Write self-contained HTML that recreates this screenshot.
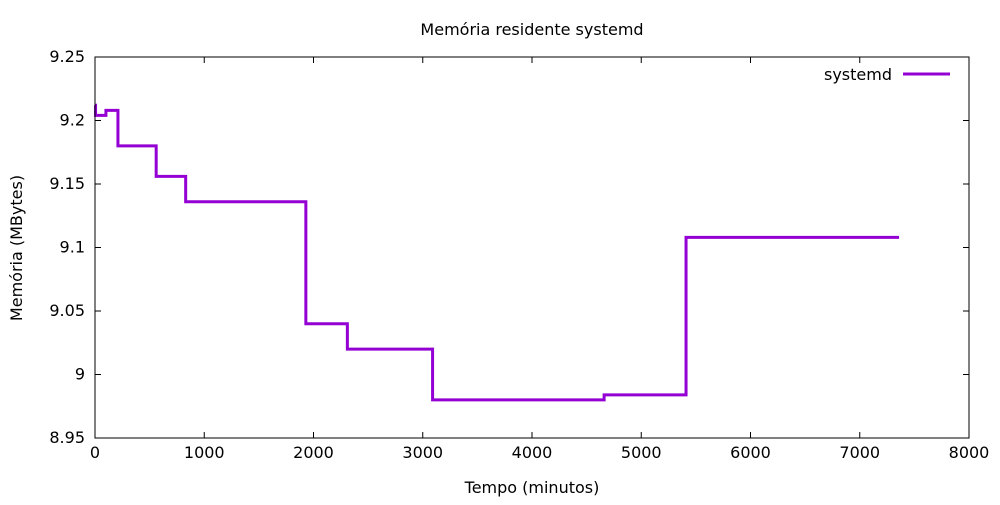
<!DOCTYPE html>
<html><head><meta charset="utf-8"><style>
body{margin:0;background:#fff;}
svg text{font-family:"DejaVu Sans","Liberation Sans",sans-serif;font-size:16px;fill:#000;}
</style></head><body>
<svg id="chart" width="1000" height="500" xmlns="http://www.w3.org/2000/svg">
<rect x="0" y="0" width="1000" height="500" fill="#fff"/>
<text x="532" y="35" text-anchor="middle">Memória residente systemd</text>
<text x="532" y="493" text-anchor="middle">Tempo (minutos)</text>
<text transform="translate(22,248) rotate(-90)" text-anchor="middle">Memória (MBytes)</text>
<g id="axes"></g>
<g id="series"></g>
<rect x="95" y="57" width="874" height="381" fill="none" stroke="#000" stroke-width="1"/>
<text x="892" y="80" text-anchor="end">systemd</text>
<line x1="903" y1="74" x2="950" y2="74" stroke="#9400d3" stroke-width="3"/>
</svg>
<script>
const xTicks=[0,1000,2000,3000,4000,5000,6000,7000,8000];
const yTicks=[8.95,9,9.05,9.1,9.15,9.2,9.25];
const yTickLabels=["8.95","9","9.05","9.1","9.15","9.2","9.25"];
const times=[0,5,100,210,560,830,1930,2310,3090,4660,5410,7360];
const mem=[9.212,9.204,9.208,9.18,9.156,9.136,9.04,9.02,8.98,8.984,9.108,9.108];
const L=95,R=969,T=57,B=438;
const xs=v=>L+(v-0)/(8000)*(R-L);
const ys=v=>B-(v-8.95)/(0.3)*(B-T);
const NS="http://www.w3.org/2000/svg";
const ax=document.getElementById('axes');
xTicks.forEach(t=>{
 const x=xs(t);
 const l=document.createElementNS(NS,'path');
 l.setAttribute('d',`M${x},${B}v-6M${x},${T}v6`);
 l.setAttribute('stroke','#000');
 
 
 ax.appendChild(l);
 const tx=document.createElementNS(NS,'text');
 tx.setAttribute('x',x);tx.setAttribute('y',B+20);tx.setAttribute('text-anchor','middle');
 tx.textContent=t;
 
 
 ax.appendChild(tx);
});
yTicks.forEach((t,i)=>{
 const y=ys(t);
 const l=document.createElementNS(NS,'path');
 l.setAttribute('d',`M${L},${y}h6M${R},${y}h-6`);
 l.setAttribute('stroke','#000');
 
 
 ax.appendChild(l);
 const tx=document.createElementNS(NS,'text');
 tx.setAttribute('x',L-10);tx.setAttribute('y',y+5);tx.setAttribute('text-anchor','end');
 tx.textContent=yTickLabels[i];
 
 
 ax.appendChild(tx);
});
let d='';
times.forEach((t,i)=>{
 if(i===0) d+=`M${xs(t)},${ys(mem[i])}`;
 else d+=`H${xs(t)}V${ys(mem[i])}`;
});
const p=document.createElementNS(NS,'path');
p.setAttribute('d',d);p.setAttribute('fill','none');p.setAttribute('stroke','#9400d3');p.setAttribute('stroke-width','3');


document.getElementById('series').appendChild(p);
</script>
</body></html>
